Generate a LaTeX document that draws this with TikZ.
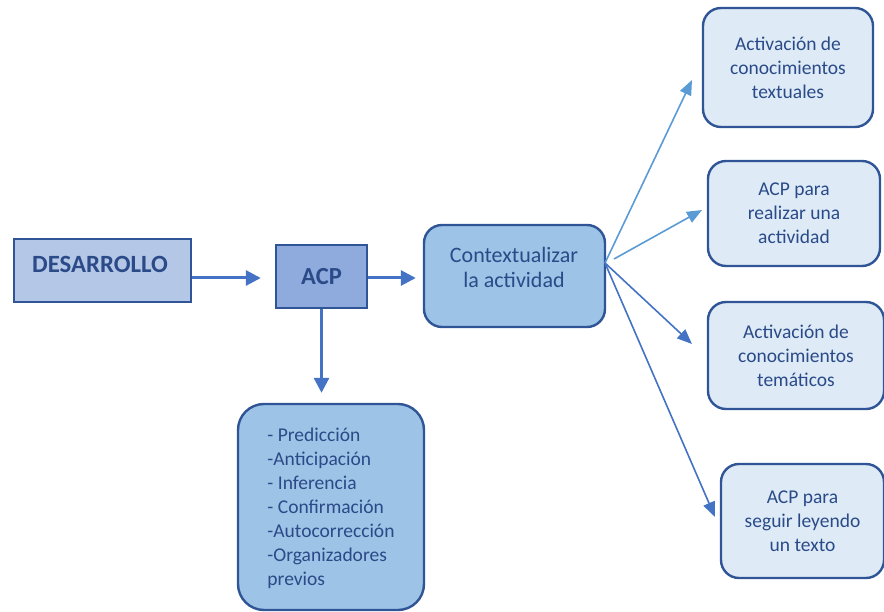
\documentclass[tikz,border=0pt]{standalone}
\usepackage{fontspec}
\setmainfont{Carlito}
\usetikzlibrary{arrows.meta}
\definecolor{bord}{HTML}{2F5597}
\definecolor{txt}{HTML}{2A4A88}
\definecolor{arrdark}{HTML}{4472C4}
\definecolor{arrlight}{HTML}{5B9BD5}
\definecolor{fdes}{HTML}{B4C7E7}
\definecolor{facp}{HTML}{8FAADC}
\definecolor{fmid}{HTML}{9DC3E6}
\definecolor{fright}{HTML}{DEEBF7}
\tikzset{
  sqbox/.style={draw=bord, line width=2.4pt, inner sep=0pt},
  rbox/.style={draw=bord, line width=2.4pt, inner sep=0pt, rounded corners=18pt},
  rtext/.style={text=txt, align=center, font=\fontsize{19.5}{24}\selectfont},
  thick arrow/.style={draw=arrdark, line width=3pt, -{Triangle[length=15pt,width=15pt]}},
  thin dark/.style={draw=arrdark, line width=1.6pt, -{Triangle[length=15pt,width=12pt]}},
  thin light/.style={draw=arrlight, line width=1.6pt, -{Triangle[length=15pt,width=12pt]}}
}
\begin{document}
\begin{tikzpicture}[x=1pt,y=-1pt]
\useasboundingbox (0,0) rectangle (884,612);
% boxes
\node[sqbox, fill=fdes, minimum width=177pt, minimum height=63pt] (des) at (102.5,270.5) {};
\node[text=txt, font=\fontsize{24.8}{28}\selectfont\bfseries] (destxt) at (100,264) {DESARROLLO};
\node[sqbox, fill=facp, minimum width=91pt, minimum height=63pt, text=txt, font=\fontsize{24.5}{28}\selectfont\bfseries] (acp) at (321.5,276.5) {ACP};
\node[rbox, fill=fmid, minimum width=181pt, minimum height=102pt] (ctx) at (514.5,276) {};
\node[text=txt, align=center, font=\fontsize{22}{25}\selectfont] (ctxtxt) at (514,267.5) {Contextualizar\\la actividad};
\node[rbox, rounded corners=26pt, fill=fmid, minimum width=186pt, minimum height=206pt] (list) at (331,507) {};
\node[text=txt, align=left, font=\fontsize{19.5}{24}\selectfont] (listtxt) at (331,508.5) {- Predicción\\-Anticipación\\- Inferencia\\- Confirmación\\-Autocorrección\\-Organizadores\\previos};
\node[rbox, fill=fright, minimum width=170pt, minimum height=119pt, rtext] (r1) at (788,67.5) {Activación de\\conocimientos\\textuales};
\node[rbox, fill=fright, minimum width=172pt, minimum height=105pt, rtext] (r2) at (794,213.5) {ACP para\\realizar una\\actividad};
\node[rbox, fill=fright, minimum width=176pt, minimum height=107pt, rtext] (r3) at (796,355.5) {Activación de\\conocimientos\\temáticos};
\node[rbox, fill=fright, minimum width=163pt, minimum height=114pt, rtext] (r4) at (802.5,521) {ACP para\\seguir leyendo\\un texto};
% connectors
\draw[thick arrow, shorten >=14pt] (des.east |- 0,278) -- (acp.west |- 0,278);
\draw[thick arrow, shorten >=7pt] (acp.east |- 0,278) -- (ctx.west |- 0,278);
\draw[thick arrow, shorten >=10pt] (acp.south) -- (list.north -| acp.south);
\coordinate (s1) at (605,263);
\coordinate (s2) at (614,259);
\coordinate (t1) at (692,80);
\coordinate (t2) at (702,210);
\coordinate (t3) at (692,344);
\coordinate (t4) at (715,517);
\draw[thin light] (s1) -- (t1);
\draw[thin light] (s2) -- (t2);
\draw[thin dark] (s1) -- (t3);
\draw[thin dark] (s1) -- (t4);
\end{tikzpicture}
\end{document}
